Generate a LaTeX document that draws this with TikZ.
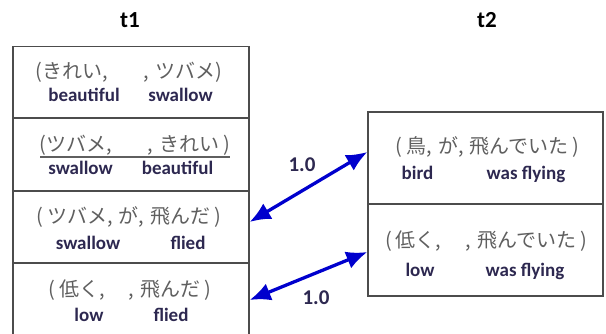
\documentclass[tikz,border=0pt]{standalone}
\usepackage{fontspec}
\setmainfont{Carlito}
\newfontfamily\jp{Noto Sans CJK JP}
\usetikzlibrary{arrows.meta}
\definecolor{jpgray}{RGB}{95,95,95}
\definecolor{entext}{RGB}{45,40,80}
\definecolor{arrowblue}{RGB}{0,0,205}
\tikzset{
  rowbox/.style={draw=black!70, line width=1.3pt, minimum width=236pt, inner sep=0pt},
  jptext/.style={font=\jp\fontsize{20}{20}\selectfont, text=jpgray, inner sep=0pt},
  entxt/.style={font=\fontsize{19}{19}\selectfont\bfseries, text=entext, inner sep=0pt, anchor=base},
  title/.style={font=\fontsize{23}{23}\selectfont\bfseries, text=black, inner sep=0pt},
  link/.style={draw=arrowblue, line width=3.3pt, {Latex[length=21pt,width=18pt]}-{Latex[length=21pt,width=18pt]}},
  wlabel/.style={font=\fontsize{21}{21}\selectfont\bfseries, text=entext, inner sep=0pt}
}
\begin{document}
\begin{tikzpicture}[x=1pt,y=1pt]
\useasboundingbox (0,0) rectangle (606,334);
% titles
\node[title] (t1) at (130,314) {t1};
\node[title] (t2) at (487,314) {t2};
% left table rows
\node[rowbox, minimum height=71.5pt] (a1) at (131,251.5) {};
\node[rowbox, minimum height=73pt] (a2) at (131,179.5) {};
\node[rowbox, minimum height=72pt] (a3) at (131,107) {};
\node[rowbox, minimum height=82pt] (a4) at (131,30) {};
% right table rows
\node[rowbox, minimum width=235pt, minimum height=92pt] (b1) at (485.5,176) {};
\node[rowbox, minimum width=235pt, minimum height=92pt] (b2) at (485.5,84) {};
% row texts
\node[jptext] (a1j) at (129,261.5) {(きれい,\hspace{1.8em},\hspace{0.3em}ツバメ)};
\node[entxt] (a1e1) at (84,232) {beautiful};
\node[entxt] (a1e2) at (180.5,232) {swallow};
\node[jptext] (a2j) at (135,188.5) {(ツバメ,\hspace{1.8em},\hspace{0.3em}きれい\hspace{0.2em})};
\draw[jpgray, line width=1.1pt] (40,177) -- (230,177);
\node[entxt] (a2e1) at (80.5,159) {swallow};
\node[entxt] (a2e2) at (177.5,159) {beautiful};
\node[jptext] (a3j) at (129,116.5) {(\hspace{0.2em}ツバメ,\hspace{0.3em}が,\hspace{0.3em}飛んだ\hspace{0.2em})};
\node[entxt] (a3e1) at (88,84) {swallow};
\node[entxt] (a3e2) at (188,84) {flied};
\node[jptext] (a4j) at (130,44) {(\hspace{0.2em}低く,\hspace{1.2em},\hspace{0.3em}飛んだ\hspace{0.2em})};
\node[entxt] (a4e1) at (89,12) {low};
\node[entxt] (a4e2) at (171,12) {flied};
\node[jptext] (b1j) at (487.5,186.5) {(\hspace{0.2em}鳥,\hspace{0.3em}が,\hspace{0.3em}飛んでいた\hspace{0.2em})};
\node[entxt] (b1e1) at (417.5,154) {bird};
\node[entxt] (b1e2) at (526,154) {was flying};
\node[jptext] (b2j) at (486,93) {(\hspace{0.2em}低く,\hspace{1.2em},\hspace{0.3em}飛んでいた\hspace{0.2em})};
\node[entxt] (b2e1) at (420,57) {low};
\node[entxt] (b2e2) at (525,57) {was flying};
% links
\draw[link] ([yshift=5pt]a3.east) -- ([yshift=6pt]b1.west);
\draw[link] ([yshift=4pt]a4.east) -- ([yshift=-2pt]b2.west);
\node[wlabel] (l1) at (302,169) {1.0};
\node[wlabel] (l2) at (316,36) {1.0};
\end{tikzpicture}
\end{document}
